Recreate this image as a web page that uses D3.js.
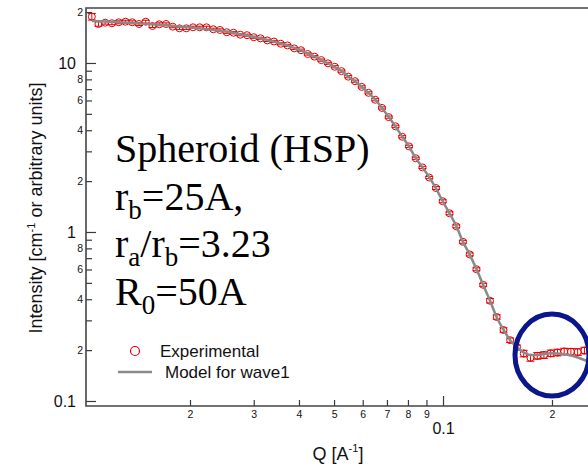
<!DOCTYPE html>
<html>
<head>
<meta charset="utf-8">
<script src="https://cdn.jsdelivr.net/npm/d3@7"></script>
<style>
body{margin:0;background:#fff;}
svg{display:block;}
</style>
</head>
<body>
<svg id="chart" width="588" height="467"></svg>
<script>
// Q values of the measured points [A^-1]
var qValues = [0.01071,0.01117,0.01166,0.01217,0.01271,0.01327,0.01385,0.01446,0.01509,0.01575,
	0.01645,0.01717,0.01792,0.01870,0.01953,0.02038,0.02128,0.02221,0.02319,0.02420,
	0.02527,0.02637,0.02753,0.02874,0.03000,0.03132,0.03269,0.03412,0.03562,0.03718,
	0.03881,0.04052,0.04229,0.04415,0.04609,0.04811,0.05022,0.05242,0.05472,0.05712,
	0.05962,0.06224,0.06497,0.06782,0.07080,0.07390,0.07714,0.08053,0.08406,0.08775,
	0.09160,0.09562,0.09981,0.1042,0.1088,0.1135,0.1185,0.1237,0.1291,0.1348,
	0.1407,0.1469,0.1533,0.1601,0.1671,0.1744,0.1821,0.1900,0.1984,0.2071,
	0.2162,0.2256,0.2355,0.2459];
// measured intensity
var intensity = [18.79,17.01,17.32,17.18,17.41,17.55,17.41,17.01,17.55,16.55,
	16.94,17.01,16.40,16.04,16.04,16.26,16.26,16.26,15.83,15.68,
	15.2,15.1,14.7,14.6,14.2,14.0,13.6,13.4,13.0,12.7,
	12.2,11.9,11.3,10.9,10.4,9.95,9.50,8.95,8.30,7.80,
	7.22,6.66,6.06,5.42,4.78,4.22,3.66,3.21,2.73,2.41,
	2.10,1.82,1.52,1.29,1.08,0.875,0.737,0.602,0.487,0.392,
	0.314,0.263,0.229,0.208,0.191,0.180,0.185,0.187,0.1915,0.1936,
	0.1963,0.1957,0.1950,0.1990];
// relative error of each point
var relErr = [0.045,0.03,0.02,0.02,0.02,0.02,0.02,0.02,0.02,0.02,
	0.02,0.015,0.015,0.015,0.015,0.015,0.015,0.015,0.015,0.015,
	0.015,0.015,0.015,0.015,0.015,0.015,0.015,0.015,0.015,0.015,
	0.015,0.015,0.015,0.015,0.015,0.015,0.015,0.015,0.015,0.015,
	0.015,0.015,0.015,0.015,0.015,0.015,0.015,0.015,0.015,0.015,
	0.015,0.02,0.02,0.02,0.02,0.02,0.02,0.02,0.02,0.03,
	0.03,0.03,0.03,0.03,0.045,0.045,0.045,0.045,0.045,0.045,
	0.045,0.045,0.045,0.045];
// model curve (wave1), one extra point beyond the last measurement
var modelQ = qValues.concat([0.2567]);
var modelI = [17.72,17.65,17.58,17.50,17.43,17.34,17.24,17.15,17.06,16.94,
	16.83,16.71,16.58,16.44,16.31,16.15,16.00,15.85,15.68,15.49,
	15.28,15.05,14.79,14.55,14.25,13.96,13.68,13.37,13.04,12.69,
	12.27,11.86,11.38,10.93,10.42,9.93,9.47,8.97,8.32,7.77,
	7.23,6.65,6.08,5.42,4.79,4.21,3.67,3.21,2.74,2.41,
	2.11,1.81,1.52,1.29,1.085,0.877,0.735,0.604,0.486,0.393,
	0.313,0.264,0.229,0.208,0.1936,0.1871,0.1871,0.1897,0.1915,0.1910,
	0.1892,0.1858,0.1808,0.1748,0.1678];

var xMajorTicks = [0.1];
var xMinorTicks = [0.02,0.03,0.04,0.05,0.06,0.07,0.08,0.09,0.2];
var yMajorTicks = [0.1,1,10];
var yMinorTicks = [0.2,0.3,0.4,0.5,0.6,0.7,0.8,0.9,2,3,4,5,6,7,8,9,20];
var yMinorLabelled = [0.2,0.4,0.6,0.8,2,4,6,8,20];

var noteLines = [
	[["Spheroid (HSP)",0]],
	[["r",0],["b",1],["=25A,",0]],
	[["r",0],["a",1],["/r",0],["b",1],["=3.23",0]],
	[["R",0],["0",1],["=50A",0]]
];
var highlight = {q:0.2, i:0.187};

var svg = d3.select("#chart");
var pLeft = 86, pTop = 8, pRight = 588, pBottom = 406;
var sans = "'Liberation Sans', Arial, sans-serif";

var x = d3.scaleLog().domain([0.01032,0.2515]).range([pLeft,pRight]);
var y = d3.scaleLog().domain([0.0934,21.15]).range([pBottom,pTop]);

function digit(v){
	return Math.round(v/Math.pow(10,Math.floor(Math.log10(v)+1e-9)));
}

svg.append("defs").append("clipPath").attr("id","plotclip")
	.append("rect").attr("x",pLeft).attr("y",pTop).attr("width",pRight-pLeft).attr("height",pBottom-pTop);

//axes: minor and major ticks drawn separately
function styleAxis(g,size){
	g.select(".domain").remove();
	g.attr("color","#3a3a3a").attr("font-family",sans).attr("font-size",size);
	g.selectAll(".tick line").attr("stroke-width",1.2);
	g.selectAll(".tick text").attr("fill","#111");
}
svg.append("g").attr("transform","translate("+pLeft+",0)")
	.call(d3.axisLeft(y).tickValues(yMinorTicks).tickSize(-6).tickPadding(3)
		.tickFormat(function(v){ return yMinorLabelled.indexOf(v)>=0 ? digit(v) : ""; }))
	.call(function(g){ styleAxis(g,10.5); });
svg.append("g").attr("transform","translate("+pLeft+",0)")
	.call(d3.axisLeft(y).tickValues(yMajorTicks).tickSize(-10).tickPadding(10)
		.tickFormat(function(v){ return String(v); }))
	.call(function(g){ styleAxis(g,16); });
svg.append("g").attr("transform","translate(0,"+pBottom+")")
	.call(d3.axisBottom(x).tickValues(xMinorTicks).tickSize(-6).tickPadding(5).tickFormat(digit))
	.call(function(g){ styleAxis(g,10.5); });
svg.append("g").attr("transform","translate(0,"+pBottom+")")
	.call(d3.axisBottom(x).tickValues(xMajorTicks).tickSize(-10).tickPadding(17)
		.tickFormat(function(v){ return String(v); }))
	.call(function(g){ styleAxis(g,16); });

//frame lines
svg.append("path")
	.attr("d","M"+pRight+","+pTop+"H"+pLeft+"V"+pBottom+"H"+pRight)
	.attr("fill","none").attr("stroke","#444").attr("stroke-width",1.6);

//data
var plot = svg.append("g").attr("clip-path","url(#plotclip)");
var pts = qValues.map(function(q,i){ return {q:q, v:intensity[i], e:relErr[i]}; });
var eb = plot.append("g").attr("stroke","#e60000").attr("stroke-width",1).attr("fill","none");
eb.selectAll("path").data(pts).enter().append("path")
	.attr("d",function(d){
		var px = x(d.q), y0 = y(d.v*(1-d.e)), y1 = y(d.v*(1+d.e));
		return "M"+px+","+y0+"V"+y1+"M"+(px-4)+","+y0+"H"+(px+4)+"M"+(px-4)+","+y1+"H"+(px+4);
	});
plot.append("g").selectAll("circle").data(pts).enter().append("circle")
	.attr("cx",function(d){ return x(d.q); })
	.attr("cy",function(d){ return y(d.v); })
	.attr("r",3.5)
	.attr("fill","none").attr("stroke","#e60000").attr("stroke-width",1);

var line = d3.line()
	.x(function(d){ return x(d[0]); })
	.y(function(d){ return y(d[1]); })
	.curve(d3.curveMonotoneX);
plot.append("path")
	.datum(modelQ.map(function(q,i){ return [q,modelI[i]]; }))
	.attr("d",line)
	.attr("fill","none").attr("stroke","#8a8a8a").attr("stroke-width",2.5);

//highlight ellipse
svg.append("ellipse")
	.attr("cx",x(highlight.q)).attr("cy",y(highlight.i))
	.attr("rx",37).attr("ry",41)
	.attr("fill","none").attr("stroke","#0b168c").attr("stroke-width",5);

//annotation
var note = svg.append("text").attr("font-family","'Liberation Serif','Times New Roman',serif")
	.attr("font-size",40).attr("fill","#000");
noteLines.forEach(function(parts,li){
	parts.forEach(function(p,k){
		var s = note.append("tspan").text(p[0]);
		if(k==0){ s.attr("x",115).attr("y",162+li*47.7); }
		if(p[1]){ s.attr("font-size",27).attr("dy",9); }
		else if(k>0 && parts[k-1][1]){ s.attr("dy",-9); }
	});
});

//legend
var leg = svg.append("g").attr("font-family",sans).attr("font-size",17).attr("fill","#111");
leg.append("circle").attr("cx",135).attr("cy",351).attr("r",4.5)
	.attr("fill","none").attr("stroke","#e60000").attr("stroke-width",1.2);
leg.append("text").attr("x",160).attr("y",351).attr("dy","0.35em").text("Experimental");
leg.append("line").attr("x1",118).attr("x2",152).attr("y1",372).attr("y2",372)
	.attr("stroke","#8a8a8a").attr("stroke-width",2.5);
leg.append("text").attr("x",165).attr("y",372).attr("dy","0.35em").text("Model for wave1");

//axis titles
var xt = svg.append("text").attr("x",338).attr("y",460).attr("text-anchor","middle")
	.attr("font-family",sans).attr("font-size",18).attr("fill","#111");
xt.append("tspan").text("Q [A");
xt.append("tspan").text("-1").attr("font-size",11).attr("dy",-8);
xt.append("tspan").text("]").attr("dy",8);

var yt = svg.append("text").attr("transform","translate(42,208) rotate(-90)")
	.attr("text-anchor","middle")
	.attr("font-family",sans).attr("font-size",18).attr("fill","#111");
yt.append("tspan").text("Intensity [cm");
yt.append("tspan").text("-1").attr("font-size",11).attr("dy",-7);
yt.append("tspan").text(" or arbitrary units]").attr("dy",7);
</script>
</body>
</html>
